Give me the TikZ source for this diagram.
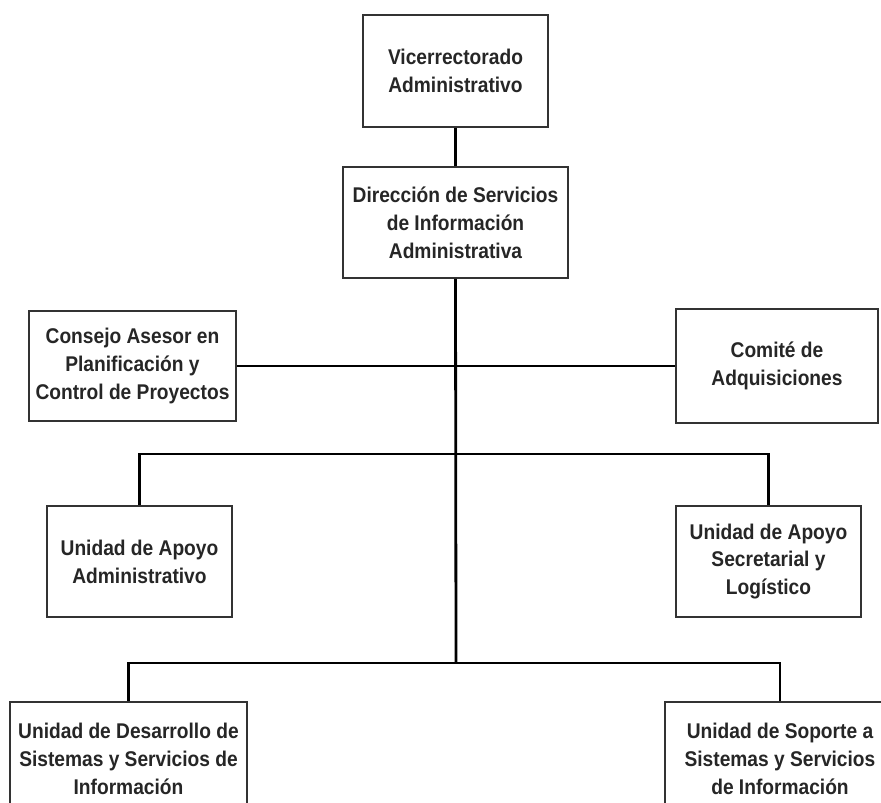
\documentclass[tikz,border=0pt]{standalone}
\usepackage{fontspec}
\setmainfont{Liberation Sans}[FakeStretch=0.9]
\begin{document}
\begin{tikzpicture}[x=1pt,y=-1pt,
  box/.style={draw=black!80, line width=1.8pt, fill=white, align=center, inner sep=0pt,
    font=\fontsize{21.3}{27.8}\selectfont\bfseries, text=black!85},
  link/.style={line width=2.8pt, black, line join=miter}]
\useasboundingbox (0,0) rectangle (881,803);
\clip (0,0) rectangle (881,803);
\fill[white] (0,0) rectangle (881,803);
% coordinates on the trunk
\coordinate (t2) at (456,454);
\coordinate (t3) at (456,663);
% boxes
\node[box, minimum width=185pt, minimum height=112pt] (vr) at (455.5,71) {Vicerrectorado\\Administrativo};
\node[box, minimum width=225pt, minimum height=111pt] (dir) at (455.5,222.5) {Dirección de Servicios\\de Información\\Administrativa};
\node[box, minimum width=207pt, minimum height=110pt] (cons) at (132.5,366) {Consejo Asesor en\\Planificación y\\Control de Proyectos};
\node[box, minimum width=202pt, minimum height=114pt] (com) at (777,366) {Comité de\\Adquisiciones};
\node[box, minimum width=185pt, minimum height=111pt] (uaa) at (139.5,561.5) {Unidad de Apoyo\\Administrativo};
\node[box, minimum width=185pt, minimum height=111pt] (uas) at (768.5,561.5) {Unidad de Apoyo\\Secretarial y\\Logístico};
\node[box, minimum width=237pt, minimum height=114pt] (uds) at (128.5,759) {Unidad de Desarrollo de\\Sistemas y Servicios de\\Información};
\node[box, minimum width=230pt, minimum height=114pt] (uss) at (780,759) {Unidad de Soporte a\\Sistemas y Servicios\\de Información};
% connectors
\draw[link] (vr.south) -- (dir.north);
\draw[link] (dir.south) -- (t3);
\draw[link] (cons.east) -- (com.west);
\draw[link] (uaa.north) |- (t2) -| (uas.north);
\draw[link] (uds.north) |- (t3) -| (uss.north);
\end{tikzpicture}
\end{document}
